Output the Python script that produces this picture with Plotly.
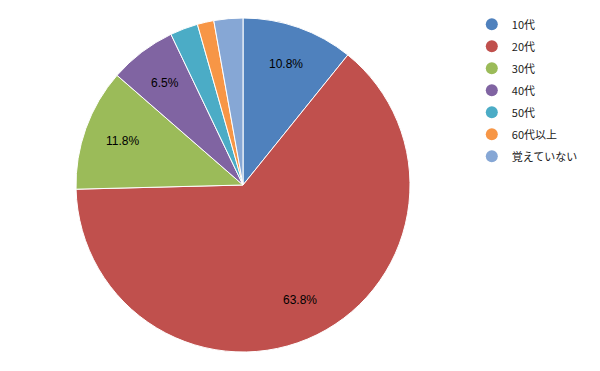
import math
import plotly.graph_objects as go

categories = ["10代", "20代", "30代", "40代", "50代", "60代以上", "覚えていない"]
values = [10.8, 63.8, 11.8, 6.5, 2.7, 1.6, 2.8]
colors = ["#4F81BD", "#C0504D", "#9BBB59", "#8064A2", "#4BACC6", "#F79646", "#86A7D5"]

W, H = 600, 371
# the page body adds an 8px offset, so positions are given 8px up/left
cx, cy, R = 235, 177, 167

fig = go.Figure()
fig.add_trace(go.Pie(
    labels=categories, values=values, sort=False, direction="clockwise", rotation=0,
    marker=dict(colors=colors, line=dict(color="white", width=1)),
    textinfo="none",
    showlegend=False, hoverinfo="label+percent",
    domain=dict(x=[(cx - R) / W, (cx + R) / W], y=[(H - cy - R) / H, (H - cy + R) / H]),
))
for i, (c, col) in enumerate(zip(categories, colors)):
    fig.add_trace(go.Scatter(x=[None], y=[None], mode="markers", name=c, legendgroup=f"g{i}",
                             marker=dict(symbol="circle", size=11, color=col)))

# data labels at 0.77 R along each slice's mid-angle
total = sum(values)
acc = 0
annotations = []
for v in values:
    mid = (acc + v / 2) / total * 2 * math.pi
    acc += v
    if v < 5:
        continue
    x = cx + 0.77 * R * math.sin(mid)
    y = cy - 0.77 * R * math.cos(mid)
    annotations.append(dict(x=x / W, y=1 - y / H, xref="paper", yref="paper",
                            xanchor="center", yanchor="middle",
                            text=f"{v:.1f}%", showarrow=False,
                            font=dict(color="black", size=12, family="Liberation Sans")))

fig.update_layout(
    width=W, height=H, margin=dict(l=0, r=0, t=0, b=0),
    paper_bgcolor="white", plot_bgcolor="white",
    xaxis=dict(visible=False), yaxis=dict(visible=False),
    annotations=annotations,
    legend=dict(x=0.773, y=0.995, xanchor="left", yanchor="top",
                font=dict(family="Noto Sans CJK JP", size=11, color="#222"),
                itemsizing="constant", tracegroupgap=3),
)
fig.write_html("out.html")
